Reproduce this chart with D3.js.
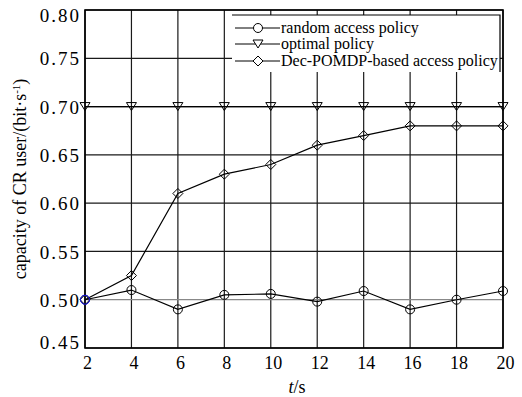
<!DOCTYPE html>
<html>
<head>
<meta charset="utf-8">
<script src="https://cdnjs.cloudflare.com/ajax/libs/d3/7.8.5/d3.min.js"></script>
<style>
body { margin: 0; background: #fff; }
text { font-family: "Liberation Serif", "Times New Roman", serif; fill: #000; }
</style>
</head>
<body>
<div id="chart"></div>
<script>
var width = 522;
var height = 397;

// data
var times = [2, 4, 6, 8, 10, 12, 14, 16, 18, 20];
var randomPolicy = [0.500, 0.510, 0.490, 0.505, 0.506, 0.498, 0.509, 0.490, 0.500, 0.509];
var optimalPolicy = [0.70, 0.70, 0.70, 0.70, 0.70, 0.70, 0.70, 0.70, 0.70, 0.70];
var decPolicy = [0.500, 0.525, 0.610, 0.630, 0.640, 0.660, 0.670, 0.680, 0.680, 0.680];
var yTicks = [0.45, 0.50, 0.55, 0.60, 0.65, 0.70, 0.75, 0.80];
var legendNames = ["random access policy", "optimal policy", "Dec-POMDP-based access policy"];

var pLeft = 85, pRight = 503, pTop = 10, pBottom = 348;

var svg = d3.select("#chart")
  .append("svg")
  .attr("width", width)
  .attr("height", height);

var xScale = d3.scaleLinear().domain([2, 20]).range([pLeft, pRight]);
var yScale = d3.scaleLinear().domain([0.45, 0.80]).range([pBottom, pTop]);

// grid
svg.append("g")
  .selectAll("line")
  .data(times)
  .enter()
  .append("line")
  .attr("x1", function(d) { return xScale(d); })
  .attr("x2", function(d) { return xScale(d); })
  .attr("y1", pTop)
  .attr("y2", pBottom)
  .attr("stroke", "#1a1a1a")
  .attr("stroke-width", 1.2);

svg.append("g")
  .selectAll("line")
  .data(yTicks)
  .enter()
  .append("line")
  .attr("x1", pLeft)
  .attr("x2", pRight)
  .attr("y1", function(d) { return yScale(d); })
  .attr("y2", function(d) { return yScale(d); })
  .attr("stroke", function(d) { return Math.abs(d - 0.5) < 1e-9 ? "#888" : "#1a1a1a"; })
  .attr("stroke-width", 1.2);

// axes (labels only, frame drawn separately)
var xAxis = d3.axisBottom(xScale).tickValues(times).tickSize(0).tickPadding(8);
var yAxis = d3.axisLeft(yScale).tickValues(yTicks).tickSize(0).tickPadding(4)
  .tickFormat(d3.format(".2f"));

var gx = svg.append("g")
  .attr("transform", "translate(0," + pBottom + ")")
  .call(xAxis);
gx.select(".domain").remove();
gx.selectAll("text")
  .style("font-family", "Liberation Serif")
  .attr("font-size", 18)
  .attr("dx", 2);

var gy = svg.append("g")
  .attr("transform", "translate(" + pLeft + ",0)")
  .call(yAxis);
gy.select(".domain").remove();
gy.selectAll("text")
  .style("font-family", "Liberation Serif")
  .style("letter-spacing", "2px")
  .attr("font-size", 19)
  .attr("dy", function(d) {
    if (d === 0.80) return "0.6em";
    if (d === 0.45) return "0.05em";
    return "0.35em";
  });

// frame
svg.append("rect")
  .attr("x", pLeft)
  .attr("y", pTop)
  .attr("width", pRight - pLeft)
  .attr("height", pBottom - pTop)
  .attr("fill", "none")
  .attr("stroke", "#000")
  .attr("stroke-width", 1.6);

// series
var line = d3.line()
  .x(function(d, i) { return xScale(times[i]); })
  .y(function(d) { return yScale(d); });

var seriesList = [
  { values: randomPolicy, symbol: "circle" },
  { values: optimalPolicy, symbol: "triangle" },
  { values: decPolicy, symbol: "diamond" }
];

function drawMarker(g, kind, x, y, color) {
  if (kind === "circle") {
    g.append("circle")
      .attr("cx", x).attr("cy", y).attr("r", 4.5)
      .attr("fill", "none").attr("stroke", color).attr("stroke-width", 1);
  } else if (kind === "triangle") {
    g.append("path")
      .attr("d", "M" + (x - 5) + "," + (y - 4) + "L" + (x + 5) + "," + (y - 4) + "L" + x + "," + (y + 4) + "Z")
      .attr("fill", "none").attr("stroke", color).attr("stroke-width", 1);
  } else {
    g.append("path")
      .attr("d", "M" + x + "," + (y - 5) + "L" + (x + 5) + "," + y + "L" + x + "," + (y + 5) + "L" + (x - 5) + "," + y + "Z")
      .attr("fill", "none").attr("stroke", color).attr("stroke-width", 1);
  }
}

seriesList.forEach(function(s) {
  svg.append("path")
    .datum(s.values)
    .attr("d", line)
    .attr("fill", "none")
    .attr("stroke", "#000")
    .attr("stroke-width", 1.2);
  var g = svg.append("g");
  s.values.forEach(function(v, i) {
    drawMarker(g, s.symbol, xScale(times[i]), yScale(v), "#000");
  });
});

// blue circle at the first point
drawMarker(svg.append("g"), "circle", xScale(times[0]), yScale(randomPolicy[0]), "#1a1aff");

// legend
var lg = svg.append("g");
var lgLeft = 232, lgRight = 500, lgTop = 15, lgBottom = 72;
lg.append("rect")
  .attr("x", lgLeft).attr("y", lgTop)
  .attr("width", lgRight - lgLeft).attr("height", lgBottom - lgTop)
  .attr("fill", "#fff");
lg.append("path")
  .attr("d", "M" + lgLeft + "," + lgTop + "H" + lgRight + "V" + lgBottom)
  .attr("fill", "none").attr("stroke", "#000").attr("stroke-width", 1.2);

var rowY = [28, 44, 61];
legendNames.forEach(function(name, i) {
  lg.append("line")
    .attr("x1", 235).attr("x2", 280)
    .attr("y1", rowY[i]).attr("y2", rowY[i])
    .attr("stroke", "#000").attr("stroke-width", 1);
  var m = lg.append("g");
  drawMarker(m, seriesList[i].symbol, 258, rowY[i], "#000");
  m.selectAll("circle,path").attr("fill", "#fff");
  lg.append("text")
    .attr("x", 281)
    .attr("y", rowY[i])
    .attr("dy", "0.33em")
    .attr("font-size", 16)
    .text(name);
});

// axis titles
var xt = svg.append("text")
  .attr("x", (pLeft + pRight) / 2 + 3)
  .attr("y", 393)
  .attr("text-anchor", "middle")
  .attr("font-size", 18);
xt.append("tspan").attr("font-style", "italic").text("t");
xt.append("tspan").text("/s");

var yt = svg.append("text")
  .attr("transform", "translate(26," + ((pTop + pBottom) / 2) + ")rotate(-90)")
  .attr("text-anchor", "middle")
  .attr("font-size", 18);
yt.append("tspan").text("capacity of CR user/(bit\u00b7s");
yt.append("tspan").attr("baseline-shift", "super").attr("font-size", 11).text("-1");
yt.append("tspan").text(")");
</script>
</body>
</html>
